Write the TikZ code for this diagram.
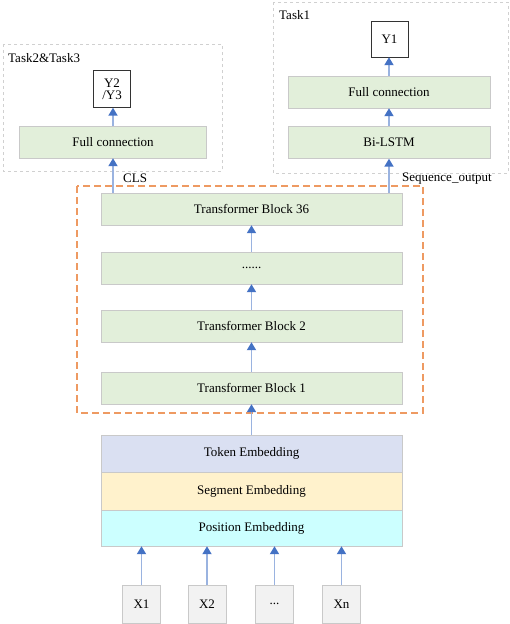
\documentclass[tikz,border=0pt]{standalone}
\usepackage{fontspec}
\setmainfont{Liberation Serif}
\usepackage{xcolor}
\usepackage{tikz}
\usetikzlibrary{arrows.meta, positioning, calc}

\definecolor{blkgreen}{HTML}{E2EFDA}
\definecolor{blkedge}{HTML}{C9C9C9}
\definecolor{tokblue}{HTML}{DAE0F2}
\definecolor{segyellow}{HTML}{FFF2CC}
\definecolor{poscyan}{HTML}{CCFFFF}
\definecolor{arrowblue}{HTML}{4472C4}
\definecolor{lineblue}{HTML}{9AB3E0}
\definecolor{dashorange}{HTML}{EE9A62}
\definecolor{dashgray}{HTML}{D0D0D0}

\tikzset{
    txt/.style={font=\fontsize{13}{15}\selectfont},
    block/.style={txt, draw=blkedge, fill=blkgreen, minimum height=32pt, inner sep=0pt},
    embed/.style={txt, draw=blkedge, minimum width=301pt, inner sep=0pt},
    inbox/.style={txt, draw=blkedge, fill=black!5, minimum width=38pt, minimum height=38pt, inner sep=0pt},
    outbox/.style={txt, draw=black!80, fill=white, minimum width=37pt, minimum height=37pt, inner sep=0pt, align=center},
    flow/.style={draw=lineblue, line width=1.8pt, -{Triangle[width=9pt, length=8pt, color=arrowblue]}},
    taskbox/.style={draw=dashgray, dashed, line width=0.9pt}
}

\begin{document}
\begin{tikzpicture}[x=1pt, y=1pt]
    \useasboundingbox (0,0) rectangle (510,-624);

    % Dashed frames
    \draw[dashorange, line width=1.5pt, dash pattern=on 7pt off 4pt] (77,-186) rectangle (423,-413);
    \draw[taskbox] (3,-44) rectangle (222,-171);
    \draw[taskbox] (273,-2) rectangle (508,-173);

    % Transformer stack
    \node[block, minimum width=301pt] (tb36) at (251.5,-209) {Transformer Block 36};
    \node[block, minimum width=301pt] (tbdots) at (251.5,-268) {......};
    \node[block, minimum width=301pt] (tb2) at (251.5,-326) {Transformer Block 2};
    \node[block, minimum width=301pt] (tb1) at (251.5,-388) {Transformer Block 1};

    % Embeddings
    \node[embed, fill=tokblue, minimum height=37pt] (tok) at (251.5,-453.5) {Token Embedding};
    \node[embed, fill=segyellow, minimum height=38pt] (seg) at (251.5,-491) {Segment Embedding};
    \node[embed, fill=poscyan, minimum height=36pt] (pos) at (251.5,-528) {Position Embedding};

    % Inputs
    \node[inbox] (x1) at (141.5,-604) {X1};
    \node[inbox] (x2) at (207,-604) {X2};
    \node[inbox] (xdots) at (274.5,-604) {...};
    \node[inbox] (xn) at (341.5,-604) {Xn};

    % Task2 & Task3 head
    \node[block, minimum width=187pt] (fcl) at (113,-142) {Full connection};
    \node[outbox] (y23) at (112,-89) {Y2\\[-3pt]/Y3};
    \node[txt, anchor=west, inner sep=0pt] (task23) at (8,-58) {Task2\&Task3};

    % Task1 head
    \node[block, minimum width=202pt] (bilstm) at (389,-142.5) {Bi-LSTM};
    \node[block, minimum width=202pt] (fcr) at (389,-92) {Full connection};
    \node[outbox, minimum height=36pt] (y1) at (389.5,-39) {Y1};
    \node[txt, anchor=west, inner sep=0pt] (task1) at (279,-15) {Task1};

    % Arrows
    \foreach \src in {x1, x2, xdots, xn}
        \draw[flow] (\src.north) -- (\src.north |- pos.south);
    \draw[flow] (tok) -- (tb1);
    \draw[flow] (tb1) -- (tb2);
    \draw[flow] (tb2) -- (tbdots);
    \draw[flow] (tbdots) -- (tb36);
    \draw[flow] (fcl.south |- tb36.north) -- (fcl.south);
    \draw[flow] (fcl) -- (fcl.south |- y23.south);
    \draw[flow] (bilstm.south |- tb36.north) -- (bilstm.south);
    \draw[flow] (bilstm) -- (fcr);
    \draw[flow] (fcr) -- (fcr.north |- y1.south);

    % Output labels
    \node[txt, anchor=west, inner sep=0pt] (cls) at (123,-178) {CLS};
    \node[txt, anchor=west, inner sep=0pt] (seqout) at (402,-179) {Sequence\_output};
\end{tikzpicture}
\end{document}
